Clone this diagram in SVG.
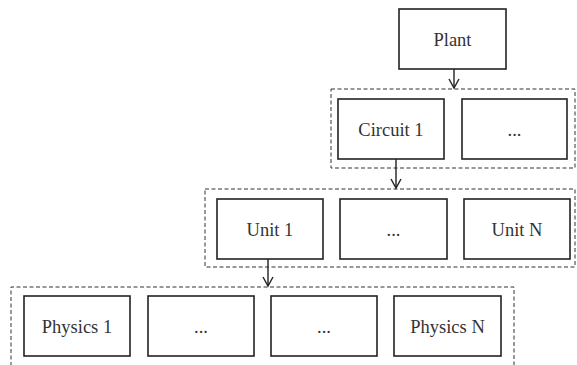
<svg xmlns="http://www.w3.org/2000/svg" width="577" height="365" viewBox="0 0 577 365">
<style>
.box{fill:#fff;stroke:#222;stroke-width:1.6}
.grp{fill:none;stroke:#333;stroke-width:1;stroke-dasharray:4,2.5}
.t{font-family:"Liberation Serif","Times New Roman",serif;font-size:18.5px;fill:#333;text-anchor:middle}
.c{stroke:#222;stroke-width:1.4;fill:none}
</style>
<defs>
<marker id="ah" markerWidth="12" markerHeight="12" refX="10" refY="6" orient="auto" markerUnits="userSpaceOnUse" viewBox="0 0 12 12">
<path d="M1,1 L10,6 L1,11" fill="none" stroke="#222" stroke-width="1.4"/>
</marker>
</defs>
<rect width="577" height="365" fill="#fff"/>
<g id="groups">
<rect class="grp" x="331" y="89" width="244" height="79"/>
<rect class="grp" x="205" y="189" width="370" height="78"/>
<path class="grp" d="M11,366 V287 H514 V366"/>
</g>
<g id="connectors">
<line class="c" x1="454" y1="69" x2="454" y2="88" marker-end="url(#ah)"/>
<line class="c" x1="396" y1="159" x2="396" y2="188" marker-end="url(#ah)"/>
<line class="c" x1="268" y1="259" x2="268" y2="286" marker-end="url(#ah)"/>
</g>
<g id="plant"><rect class="box" x="399" y="9" width="107" height="60"/><text class="t" x="452.5" y="46">Plant</text></g>
<g id="circuit1"><rect class="box" x="338" y="99" width="106" height="60"/><text class="t" x="391" y="136">Circuit 1</text></g>
<g id="circuitN"><rect class="box" x="462" y="99" width="105" height="60"/><text class="t" x="514.5" y="136">...</text></g>
<g id="unit1"><rect class="box" x="217" y="199" width="106" height="60"/><text class="t" x="270" y="236">Unit 1</text></g>
<g id="unitDots"><rect class="box" x="340" y="199" width="107" height="60"/><text class="t" x="393.5" y="236">...</text></g>
<g id="unitN"><rect class="box" x="464" y="199" width="106" height="60"/><text class="t" x="517" y="236">Unit N</text></g>
<g id="physics1"><rect class="box" x="24" y="296" width="106" height="60"/><text class="t" x="77" y="333">Physics 1</text></g>
<g id="physicsDots1"><rect class="box" x="148" y="296" width="106" height="60"/><text class="t" x="201" y="333">...</text></g>
<g id="physicsDots2"><rect class="box" x="271" y="296" width="106" height="60"/><text class="t" x="324" y="333">...</text></g>
<g id="physicsN"><rect class="box" x="394" y="296" width="107" height="60"/><text class="t" x="447.5" y="333">Physics N</text></g>
</svg>
